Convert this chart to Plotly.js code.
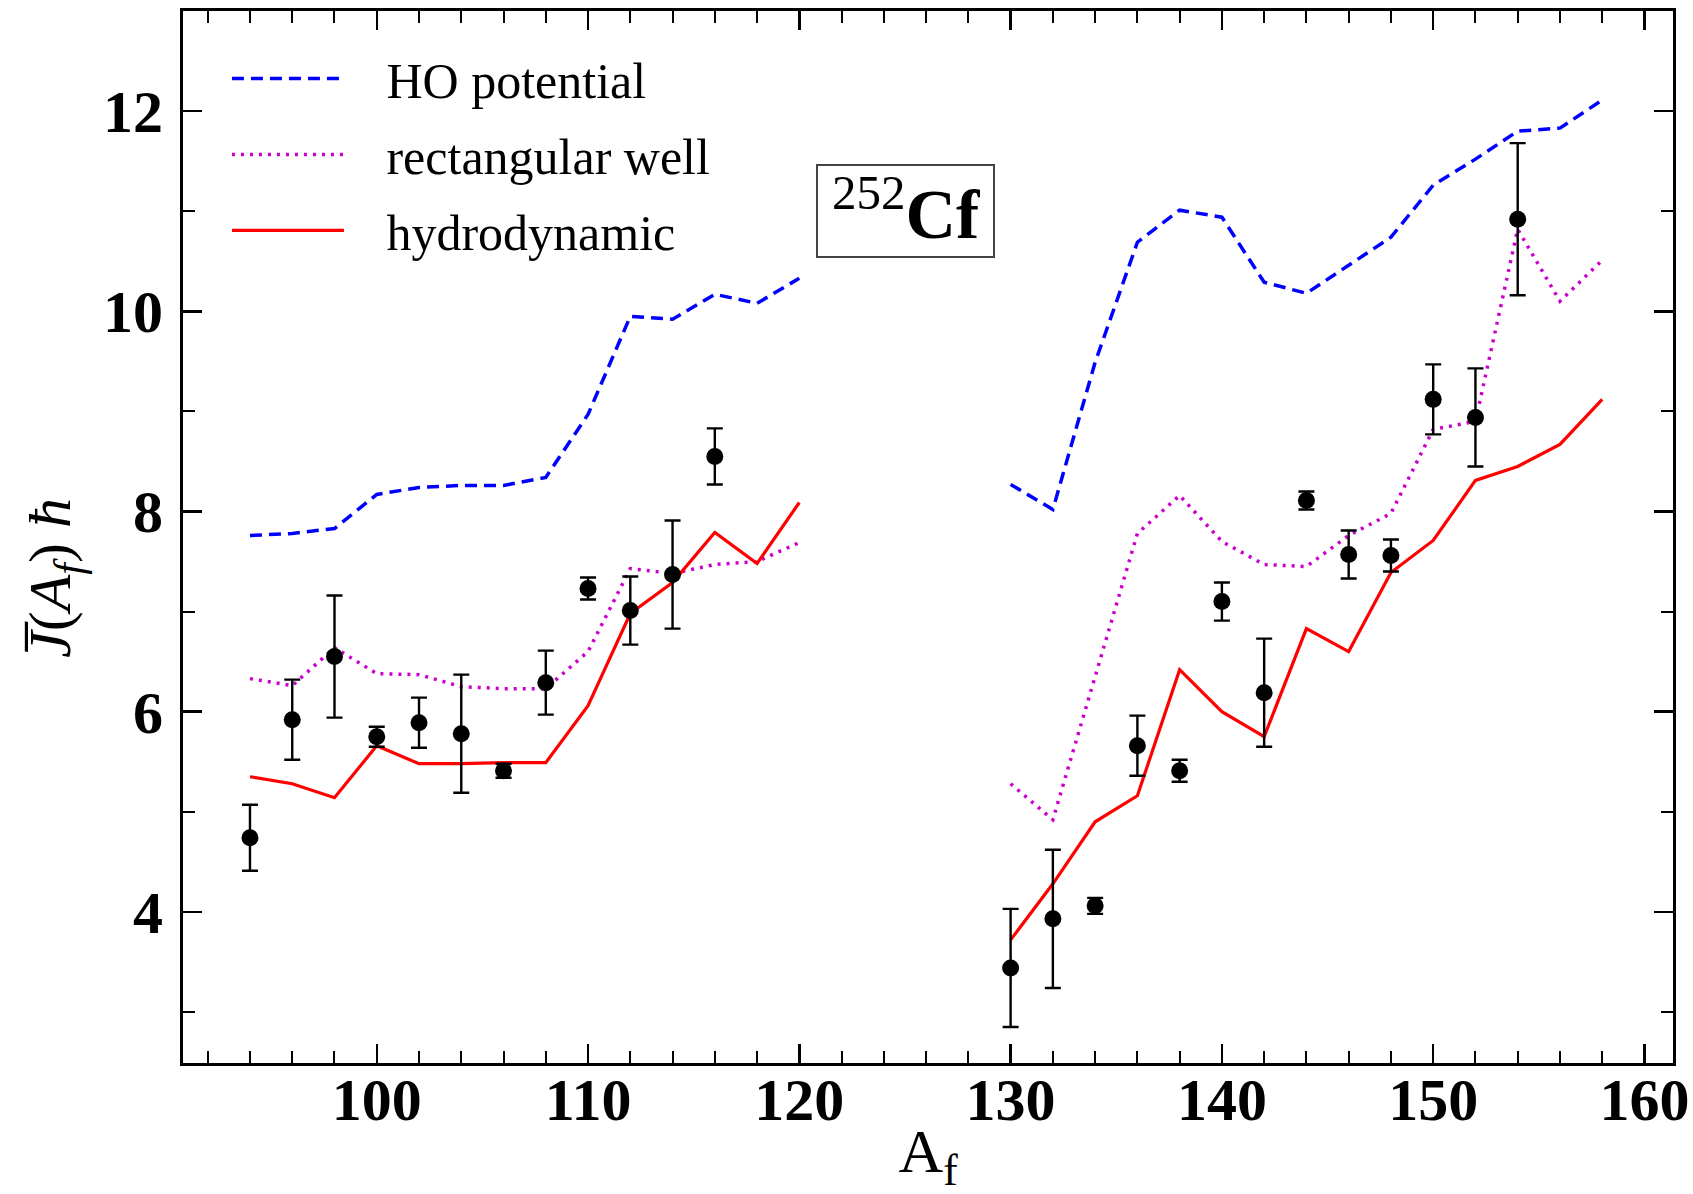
<!DOCTYPE html>
<html><head><meta charset="utf-8">
<script src="https://cdn.plot.ly/plotly-3.0.1.min.js"></script>
<style>html,body{margin:0;padding:0;background:#fff}</style>
</head><body><div id="chart" style="width:1693px;height:1194px"></div>
<script>
// Fragment mass numbers
const A_left  = [94,96,98,100,102,104,106,108,110,112,114,116,118,120];
const A_right = [130,132,134,136,138,140,142,144,146,148,150,152,154,156,158];

// HO potential (blue dashed)
const ho_left  = [7.76,7.78,7.83,8.17,8.24,8.26,8.26,8.34,8.97,9.95,9.92,10.17,10.08,10.33];
const ho_right = [8.27,8.02,9.49,10.69,11.01,10.94,10.29,10.18,10.46,10.74,11.26,11.52,11.80,11.83,12.11];

// rectangular well (magenta dotted)
const rw_left  = [6.33,6.26,6.64,6.38,6.37,6.25,6.23,6.23,6.60,7.43,7.38,7.47,7.50,7.69];
const rw_right = [5.28,4.92,6.35,7.78,8.16,7.70,7.47,7.45,7.76,7.98,8.82,8.90,10.82,10.10,10.51];

// hydrodynamic (red solid)
const hy_left  = [5.35,5.28,5.14,5.66,5.48,5.48,5.49,5.49,6.06,6.98,7.29,7.79,7.48,8.09];
const hy_right = [3.72,4.28,4.90,5.16,6.42,6.00,5.75,6.83,6.60,7.39,7.71,8.31,8.45,8.67,9.12];

// Experimental points
const A_exp = [94,96,98,100,102,104,106,108,110,112,114,116,
               130,132,134,136,138,140,142,144,146,148,150,152,154];
const J_exp = [4.74,5.92,6.55,5.75,5.89,5.78,5.41,6.29,7.23,7.01,7.37,8.55,
               3.44,3.93,4.06,5.66,5.41,7.10,6.19,8.11,7.57,7.56,9.12,8.94,10.92];
const J_err = [0.33,0.40,0.61,0.10,0.25,0.59,0.07,0.32,0.11,0.34,0.54,0.28,
               0.59,0.69,0.08,0.30,0.11,0.19,0.54,0.09,0.24,0.16,0.35,0.49,0.76];

const legendNames = ['HO potential','rectangular well','hydrodynamic'];
const gap = '\u00a0\u00a0\u00a0';

function model(name, group, line, yl, yr) {
  return [
    {x: A_left, y: yl, type:'scatter', mode:'lines', name: gap + name, legendgroup: group,
     showlegend: true, line: line},
    {x: A_right, y: yr, type:'scatter', mode:'lines', name: gap + name, legendgroup: group,
     showlegend: false, line: line}
  ];
}

const data = [].concat(
  model(legendNames[0], 'g1', {color:'#0000ff', width:3.5, dash:'12px,7px'}, ho_left, ho_right),
  model(legendNames[1], 'g2', {color:'#cc00cc', width:3.5, dash:'3px,6px'}, rw_left, rw_right),
  model(legendNames[2], 'g3', {color:'#ff0000', width:3.2}, hy_left, hy_right),
  [{x: A_exp, y: J_exp, type:'scatter', mode:'markers', showlegend:false, name:'exp',
    marker:{color:'black', size:17},
    error_y:{type:'data', array:J_err, visible:true, color:'black', thickness:2.4, width:8}}]
);

const tickFont = {family:'Liberation Serif, serif', size:60, color:'black', weight:'bold'};

const layout = {
  width:1693, height:1194,
  margin:{l:183, r:20, t:11, b:131},
  paper_bgcolor:'white', plot_bgcolor:'white',
  showlegend:true,
  legend:{x:0.0295, y:0.973, xanchor:'left', yanchor:'top', bgcolor:'rgba(0,0,0,0)',
          font:{family:'Liberation Serif, serif', size:50, color:'black'},
          itemwidth:112, traceorder:'grouped', tracegroupgap:8},
  xaxis:{range:[90.83,161.35], tick0:0, dtick:10, ticks:'inside', ticklen:19, tickwidth:2.5,
         tickcolor:'black', showline:true, linewidth:3, linecolor:'black', mirror:'allticks',
         showgrid:false, zeroline:false, tickfont:tickFont, ticklabelstandoff:-18,
         minor:{dtick:2, ticks:'inside', ticklen:12, tickwidth:2, tickcolor:'black', showgrid:false},
         title:{text:'A<sub>f</sub>', font:{family:'Liberation Serif, serif', size:62, color:'black'}, standoff:14}},
  yaxis:{range:[2.49,13.0], tick0:0, dtick:2, ticks:'inside', ticklen:19, tickwidth:2.5,
         tickcolor:'black', showline:true, linewidth:3, linecolor:'black', mirror:'allticks',
         showgrid:false, zeroline:false, tickfont:tickFont, ticklabelstandoff:5,
         minor:{dtick:1, ticks:'inside', ticklen:12, tickwidth:2, tickcolor:'black', showgrid:false}},
  shapes:[
    {type:'rect', xref:'paper', yref:'paper', x0:0.4255, x1:0.5443, y0:0.7662, y1:0.8536,
     line:{color:'#444', width:2}, fillcolor:'white', layer:'above'}
  ],
  annotations:[
    {xref:'paper', yref:'paper', x:0.4849, y:0.812, xanchor:'center', yanchor:'middle',
     text:'<sup>252</sup><b>Cf</b>', showarrow:false,
     font:{family:'Liberation Serif, serif', size:70, color:'black'}},
    {xref:'paper', yref:'paper', x:-0.0866, y:0.461, xanchor:'center', yanchor:'middle',
     textangle:-90, showarrow:false,
     text:'<i>J\u0305</i>(<i>A<sub>f</sub></i>) <i>\u0127</i>',
     font:{family:'Liberation Serif, serif', size:60, color:'black'}}
  ]
};

Plotly.newPlot('chart', data, layout, {displayModeBar:false, staticPlot:true});
</script>
</body></html>
